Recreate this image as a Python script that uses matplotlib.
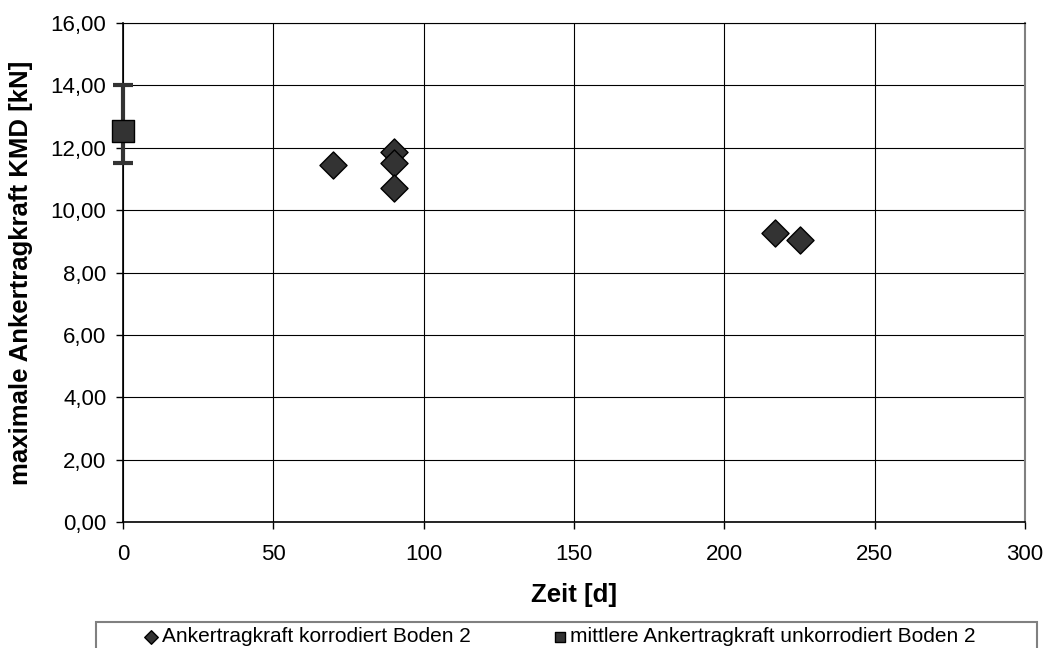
import numpy as np
import matplotlib.pyplot as plt
from matplotlib.patches import Rectangle
from matplotlib.ticker import FuncFormatter

plt.rcParams['font.family'] = ['Liberation Sans', 'DejaVu Sans']

# corroded anchors, soil 2
zeit_korr = [70, 90, 90, 90, 217, 225]
kraft_korr = [11.45, 11.86, 11.51, 10.71, 9.27, 9.04]

# uncorroded mean with min/max range
zeit_mittel = [0]
kraft_mittel = [12.55]
kraft_max = [14.0]
kraft_min = [11.5]

W, H = 1051, 648
fig = plt.figure(figsize=(W / 100, H / 100), dpi=100)
ax = fig.add_axes([123 / W, 1 - 522 / H, 902 / W, 499 / H])

err = [np.subtract(kraft_mittel, kraft_min), np.subtract(kraft_max, kraft_mittel)]
ax.errorbar(zeit_mittel, kraft_mittel, yerr=err, fmt='none', ecolor='#333333',
            elinewidth=3, capsize=7.5, capthick=3, zorder=3, clip_on=False)
ax.scatter(zeit_korr, kraft_korr, marker='D', s=190, color='#333333',
           edgecolors='black', linewidths=1, zorder=4,
           label='Ankertragkraft korrodiert Boden 2')
ax.scatter(zeit_mittel, kraft_mittel, marker='s', s=230, color='#333333',
           edgecolors='black', linewidths=1, zorder=5, clip_on=False,
           label='mittlere Ankertragkraft unkorrodiert Boden 2')

ax.set_xlim(0, 300)
ax.set_ylim(0, 16)
ax.set_xticks(np.arange(0, 301, 50))
ax.set_yticks(np.arange(0, 16.1, 2))
ax.yaxis.set_major_formatter(FuncFormatter(lambda v, p: f'{v:.2f}'.replace('.', ',')))
ax.grid(True, color='black', linewidth=0.8)
ax.set_axisbelow(True)
ax.spines['top'].set_linewidth(0.8)
ax.spines['right'].set_color('#808080')
ax.spines['right'].set_linewidth(1.5)
for s in ['left', 'bottom']:
    ax.spines[s].set_linewidth(1.2)
ax.tick_params(labelsize=16, length=5, width=1, direction='out')
ax.tick_params(axis='x', pad=11)
ax.tick_params(axis='y', pad=7)

ax.set_xlabel('Zeit [d]', fontsize=18.5, fontweight='bold')
ax.set_ylabel('maximale Ankertragkraft KMD [kN]', fontsize=18.5, fontweight='bold')
ax.xaxis.set_label_coords(0.5, -0.122)
ax.yaxis.set_label_coords(-0.1, 0.5)

# legend box along the bottom edge
fig.patches.append(Rectangle((96 / W, -0.05), 941 / W, (H - 622) / H + 0.05,
                             transform=fig.transFigure, fill=False,
                             edgecolor='#808080', linewidth=1.5))
fig.legend(loc='center left', bbox_to_anchor=(145 / W, 1 - 637 / H),
           ncol=2, frameon=False, fontsize=15, markerscale=0.5,
           handlelength=0.6, handletextpad=0.2, columnspacing=4.0,
           borderpad=0, borderaxespad=0)

fig.savefig('out.png', dpi=100)
